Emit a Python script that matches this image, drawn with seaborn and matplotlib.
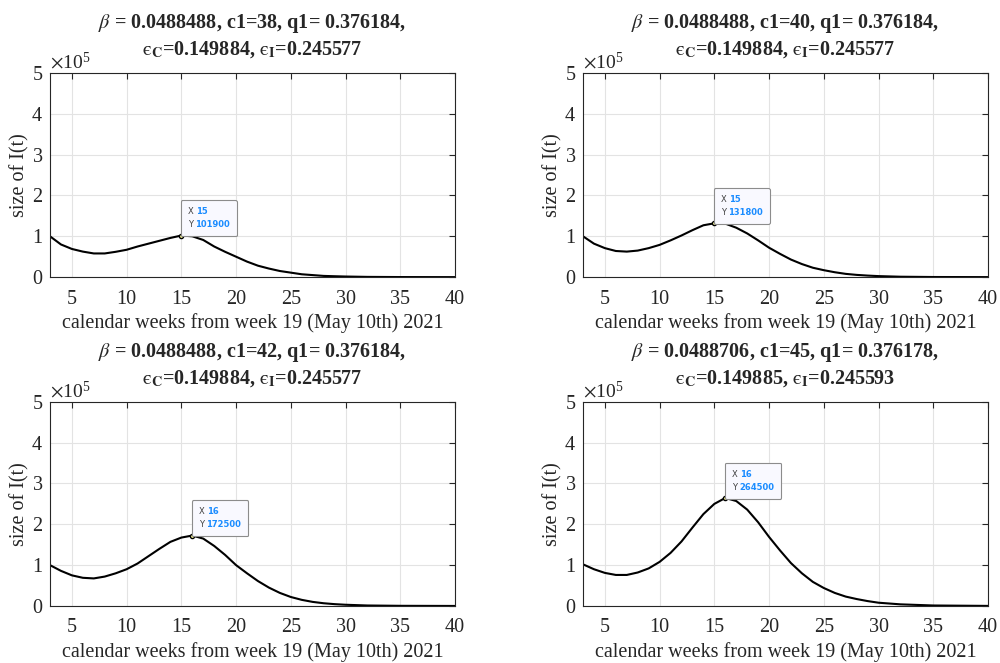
import numpy as np
import pandas as pd
import matplotlib
matplotlib.use("Agg")
import matplotlib.pyplot as plt
import seaborn as sns
from matplotlib.offsetbox import TextArea, HPacker, VPacker, AnnotationBbox
from matplotlib.ticker import ScalarFormatter, MultipleLocator

# Simulated infected population I(t), weekly, in units of 1e5
weeks = [3, 4, 5, 6, 7, 8, 9, 10, 11, 12, 13, 14, 15, 16, 17, 18, 19, 20, 21,
         22, 23, 24, 25, 26, 27, 28, 29, 30, 32, 35, 40]

I_c38 = [1.00, 0.80, 0.69, 0.625, 0.58, 0.58, 0.62, 0.67, 0.75, 0.82, 0.89,
         0.96, 1.019, 1.00, 0.91, 0.75, 0.62, 0.50, 0.38, 0.28, 0.21, 0.15,
         0.11, 0.07, 0.05, 0.03, 0.022, 0.015, 0.006, 0.002, 0.0003]
I_c40 = [1.00, 0.82, 0.71, 0.64, 0.625, 0.65, 0.71, 0.79, 0.90, 1.02, 1.15,
         1.27, 1.318, 1.31, 1.21, 1.07, 0.90, 0.72, 0.57, 0.43, 0.32, 0.23,
         0.17, 0.12, 0.08, 0.055, 0.038, 0.025, 0.01, 0.003, 0.0005]
I_c42 = [1.00, 0.86, 0.75, 0.69, 0.675, 0.72, 0.80, 0.90, 1.04, 1.22, 1.40,
         1.57, 1.675, 1.725, 1.65, 1.47, 1.25, 1.00, 0.80, 0.61, 0.45, 0.32,
         0.22, 0.15, 0.10, 0.067, 0.045, 0.03, 0.012, 0.004, 0.0006]
I_c45 = [1.02, 0.90, 0.81, 0.76, 0.76, 0.82, 0.92, 1.08, 1.30, 1.58, 1.92,
         2.25, 2.50, 2.645, 2.57, 2.36, 2.05, 1.69, 1.36, 1.05, 0.80, 0.59,
         0.44, 0.32, 0.23, 0.17, 0.12, 0.08, 0.04, 0.012, 0.002]

series = [I_c38, I_c40, I_c42, I_c45]

titles = [
    r"$\beta$ = 0.0488488, c1=38, q1= 0.376184," "\n"
    r"$\mathrm{ϵ}_{\mathbf{C}}$=0.149884, $\mathrm{ϵ}_{\mathbf{I}}$=0.245577",
    r"$\beta$ = 0.0488488, c1=40, q1= 0.376184," "\n"
    r"$\mathrm{ϵ}_{\mathbf{C}}$=0.149884, $\mathrm{ϵ}_{\mathbf{I}}$=0.245577",
    r"$\beta$ = 0.0488488, c1=42, q1= 0.376184," "\n"
    r"$\mathrm{ϵ}_{\mathbf{C}}$=0.149884, $\mathrm{ϵ}_{\mathbf{I}}$=0.245577",
    r"$\beta$ = 0.0488706, c1=45, q1= 0.376178," "\n"
    r"$\mathrm{ϵ}_{\mathbf{C}}$=0.149885, $\mathrm{ϵ}_{\mathbf{I}}$=0.245593",
]

# Data tips: (week, value)
tips = [(15, 101900), (15, 131800), (16, 172500), (16, 264500)]

xticks = [5, 10, 15, 20, 25, 30, 35, 40]
xlabel = "calendar weeks from week 19 (May 10th) 2021"
ylabel = "size of I(t)"

sns.set_theme(style="whitegrid")
plt.rcParams["font.family"] = ["Liberation Serif", "DejaVu Serif"]
plt.rcParams["mathtext.fontset"] = "stix"

fig = plt.figure(figsize=(10, 6.63), dpi=100)
positions = [
    [0.050, 0.582, 0.405, 0.308],
    [0.583, 0.582, 0.405, 0.308],
    [0.050, 0.086, 0.405, 0.308],
    [0.583, 0.086, 0.405, 0.308],
]

for pos, vals, title, (tx, ty) in zip(positions, series, titles, tips):
    ax = fig.add_axes(pos)
    df = pd.DataFrame({"week": weeks, "I": np.array(vals) * 1e5})
    sns.lineplot(data=df, x="week", y="I", ax=ax, color="black", lw=1.5)

    ax.set_xlim(3, 40)
    ax.set_ylim(0, 5e5)
    ax.set_xticks(xticks)
    ax.yaxis.set_major_locator(MultipleLocator(1e5))
    fmt = ScalarFormatter(useMathText=True)
    fmt.set_powerlimits((0, 0))
    ax.yaxis.set_major_formatter(fmt)
    ax.yaxis.get_offset_text().set_fontsize(14)
    ax.yaxis.get_offset_text().set_color("#333333")

    ax.set_facecolor("white")
    ax.grid(True, color="#e3e3e3", lw=0.8)
    for s in ax.spines.values():
        s.set_color("#262626")
        s.set_linewidth(0.8)
    ax.tick_params(direction="in", length=4, width=0.8, color="#262626",
                   top=True, right=True, labelsize=14.5, labelcolor="#262626")
    ax.tick_params(axis="x", pad=9)
    ax.tick_params(axis="y", pad=5)

    ax.set_xlabel(xlabel, fontsize=14.5, color="#262626", labelpad=3)
    ax.set_ylabel(ylabel, fontsize=14.5, color="#262626", labelpad=1)
    ax.set_title(title, fontsize=14.5, fontweight="bold", pad=13,
                 linespacing=1.3)

    # data tip marker and box
    ax.plot([tx], [ty], marker="o", ms=3, color="black",
            markerfacecolor="#ffff99", zorder=5)
    tp_lab = dict(color="#404040", fontsize=6, family="DejaVu Sans")
    tp_val = dict(color="#1a8cff", fontsize=6, family="DejaVu Sans",
                  fontweight="bold")
    row1 = HPacker(children=[TextArea("X", textprops=tp_lab),
                             TextArea(str(tx), textprops=tp_val)],
                   pad=0, sep=2)
    row2 = HPacker(children=[TextArea("Y", textprops=tp_lab),
                             TextArea(str(ty), textprops=tp_val)],
                   pad=0, sep=2)
    box = VPacker(children=[row1, row2], pad=0, sep=3, align="left")
    ab = AnnotationBbox(box, (tx, ty), xybox=(4.5, 4.5),
                        xycoords="data", boxcoords="offset points",
                        box_alignment=(0, 0), pad=0.45, frameon=True,
                        bboxprops=dict(edgecolor="#8c8c8c",
                                       facecolor="#f9f9ff", lw=0.8,
                                       boxstyle="round,pad=0.45,rounding_size=0.1"),
                        zorder=6)
    ax.add_artist(ab)

fig.savefig("out.png", dpi=100)
